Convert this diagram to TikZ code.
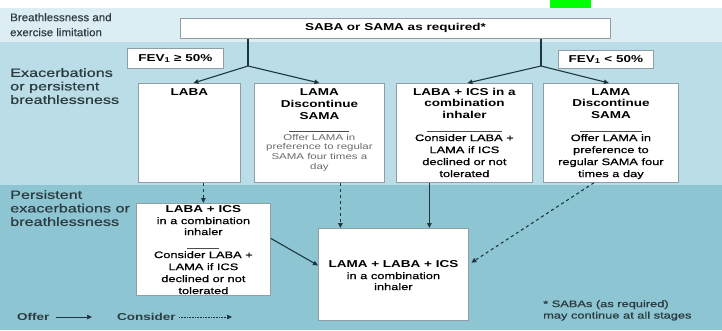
\documentclass[tikz,border=0pt]{standalone}
\usepackage{fontspec}
\setmainfont{Liberation Sans}[FakeStretch=1.35]
\newfontfamily\medfont{Liberation Sans}[FakeStretch=1.35, FakeBold=0.7]
\newfontfamily\rowfont{Liberation Sans}[FakeStretch=1.05, FakeBold=0.4]
\usetikzlibrary{positioning, arrows.meta, calc}
\definecolor{cTop}{HTML}{DCEEF4}
\definecolor{cMid}{HTML}{BADDE7}
\definecolor{cLow}{HTML}{8DC5D2}
\definecolor{cEdge}{HTML}{8E9EA4}
\definecolor{cInk}{HTML}{1E3640}
\definecolor{cLabel}{HTML}{2C3B40}
\definecolor{cNote}{HTML}{6A6A6A}
\definecolor{cMark}{HTML}{00FF00}
\newcommand{\fsz}[2]{\fontsize{#1}{#2}\selectfont}

\begin{document}
\begin{tikzpicture}[
      x=1pt, y=-1pt,
      box/.style={draw=cEdge, fill=white, line width=0.8pt, inner sep=0pt, anchor=north west},
      head/.style={anchor=north, align=center, inner sep=0pt, font=\fsz{10}{12}\bfseries},
      body/.style={anchor=north, align=center, inner sep=0pt, font=\medfont\fsz{9.5}{12}},
      side/.style={anchor=north west, align=left, inner sep=0pt, font=\medfont\fsz{12}{13.5}, text=cLabel},
      sep/.style={draw=black!70, line width=0.6pt},
      offer/.style={-{Triangle[length=5pt, width=4.5pt]}, line width=1.1pt, draw=cInk},
      consider/.style={offer, dashed},
      trunk/.style={line width=1.1pt, draw=cInk}
    ]
      \useasboundingbox (0,0) rectangle (722,330);
      % bands
      \fill[white] (0,0) rectangle (722,8);
      \fill[cMark] (550,0) rectangle (591,8);
      \fill[cTop] (0,8) rectangle (722,42);
      \fill[cMid] (0,42) rectangle (722,185);
      \fill[cLow] (0,185) rectangle (722,330);

      % row labels
      \node[side, font=\rowfont\fsz{11}{15}] (rowA) at (10,13) {Breathlessness and\\exercise limitation};
      \node[side] (rowB) at (10,68) {Exacerbations\\or persistent\\breathlessness};
      \node[side] (rowC) at (10,190) {Persistent\\exacerbations or\\breathlessness};

      % boxes
      \node[box, minimum width=430, minimum height=20, font=\fsz{10}{12}\bfseries] (saba) at (180,18) {SABA or SAMA as required*};
      \node[box, minimum width=96, minimum height=20, font=\fsz{10}{12}\bfseries] (fevHi) at (127,48) {FEV\textsubscript{1} ≥ 50\%};
      \node[box, minimum width=95, minimum height=18, font=\fsz{10}{12}\bfseries] (fevLo) at (558,50) {FEV\textsubscript{1} < 50\%};

      \node[box, minimum width=102, minimum height=99] (laba) at (138,83) {};
      \node[box, minimum width=130, minimum height=99] (lamaA) at (254,83) {};
      \node[box, minimum width=136, minimum height=99] (labaIcs) at (396,83) {};
      \node[box, minimum width=135, minimum height=99] (lamaB) at (543,83) {};
      \node[box, minimum width=134, minimum height=92] (labaIcsLow) at (136,203) {};
      \node[box, minimum width=150, minimum height=92] (triple) at (318,228) {};

      % box texts
      \node[head] (laba-h) at ([yshift=-5]laba.north) {LABA};

      \node[head] (lamaA-h) at ([yshift=-5]lamaA.north) {LAMA\\Discontinue\\SAMA};
      \draw[sep] ([xshift=-30, yshift=-48]lamaA.north) -- ++(60,0);
      \node[body, font=\fsz{8.5}{9.6}, text=cNote] (lamaA-b) at ([yshift=-51]lamaA.north)
        {Offer LAMA in\\preference to regular\\SAMA four times a\\day};

      \node[head, font=\fsz{10}{11.5}\bfseries] (labaIcs-h) at ([yshift=-5]labaIcs.north) {LABA + ICS in a\\combination\\inhaler};
      \draw[sep] ([xshift=-37, yshift=-48]labaIcs.north) -- ++(75,0);
      \node[body] (labaIcs-b) at ([yshift=-51]labaIcs.north)
        {Consider LABA +\\LAMA if ICS\\declined or not\\tolerated};

      \node[head, font=\fsz{10}{11.5}\bfseries] (lamaB-h) at ([yshift=-5]lamaB.north) {LAMA\\Discontinue\\SAMA};
      \draw[sep] ([xshift=-31, yshift=-48]lamaB.north) -- ++(62,0);
      \node[body] (lamaB-b) at ([yshift=-51]lamaB.north)
        {Offer LAMA in\\preference to\\regular SAMA four\\times a day};

      \node[head] (labaIcsLow-h) at ([yshift=-2]labaIcsLow.north) {LABA + ICS};
      \node[body, font=\medfont\fsz{9.5}{11}] (labaIcsLow-s) at ([yshift=-14]labaIcsLow.north) {in a combination\\inhaler};
      \draw[sep] ([xshift=-16, yshift=-45]labaIcsLow.north) -- ++(32,0);
      \node[body] (labaIcsLow-b) at ([yshift=-48]labaIcsLow.north)
        {Consider LABA +\\LAMA if ICS\\declined or not\\tolerated};

      \node[head] (triple-h) at ([yshift=-32]triple.north) {LAMA + LABA + ICS};
      \node[body, font=\medfont\fsz{9.5}{11}] (triple-s) at ([yshift=-44]triple.north) {in a combination\\inhaler};

      % connectors
      \coordinate (forkL) at (248,66);
      \coordinate (forkR) at (541,66);
      \draw[trunk] (saba.south -| forkL) -- (forkL);
      \draw[trunk] (saba.south -| forkR) -- (forkR);
      \draw[offer] (forkL) -- ([xshift=4]laba.north);
      \draw[offer] (forkL) -- (lamaA.north);
      \draw[offer] (forkR) -- ([xshift=3]labaIcs.north);
      \draw[offer] (forkR) -- ([xshift=-2]lamaB.north);

      \draw[consider] (labaIcsLow.north |- laba.south) -- (labaIcsLow.north);
      \draw[consider] ([xshift=21]lamaA.south) -- ([xshift=21]lamaA.south |- triple.north);
      \draw[offer] ([xshift=-35]labaIcs.south) -- ([xshift=-35]labaIcs.south |- triple.north);
      \draw[consider, shorten >=3pt] ([xshift=-17]lamaB.south) -- ([yshift=10]triple.east);
      \draw[offer] ([yshift=11]labaIcsLow.east) -- ([yshift=9]triple.west);

      % key and footnote
      \node[anchor=west, inner sep=0pt, font=\fsz{10}{12}\bfseries, text=cLabel] (offerKey) at (17,317) {Offer};
      \coordinate (offerEnd) at (92,317);
      \draw[offer, line width=0.7pt] ([xshift=6]offerKey.east) -- (offerEnd);
      \node[anchor=west, inner sep=0pt, font=\fsz{10}{12}\bfseries, text=cLabel] (considerKey) at (117,317) {Consider};
      \coordinate (considerEnd) at (232,317);
      \draw[offer, line width=0.6pt, densely dotted] ([xshift=3]considerKey.east) -- (considerEnd);

      \node[anchor=north west, align=left, inner sep=0pt, font=\medfont\fsz{9.5}{11.5}, text=cLabel] (footnote) at (543,300)
        {* SABAs (as required)\\may continue at all stages};
    \end{tikzpicture}
\end{document}
